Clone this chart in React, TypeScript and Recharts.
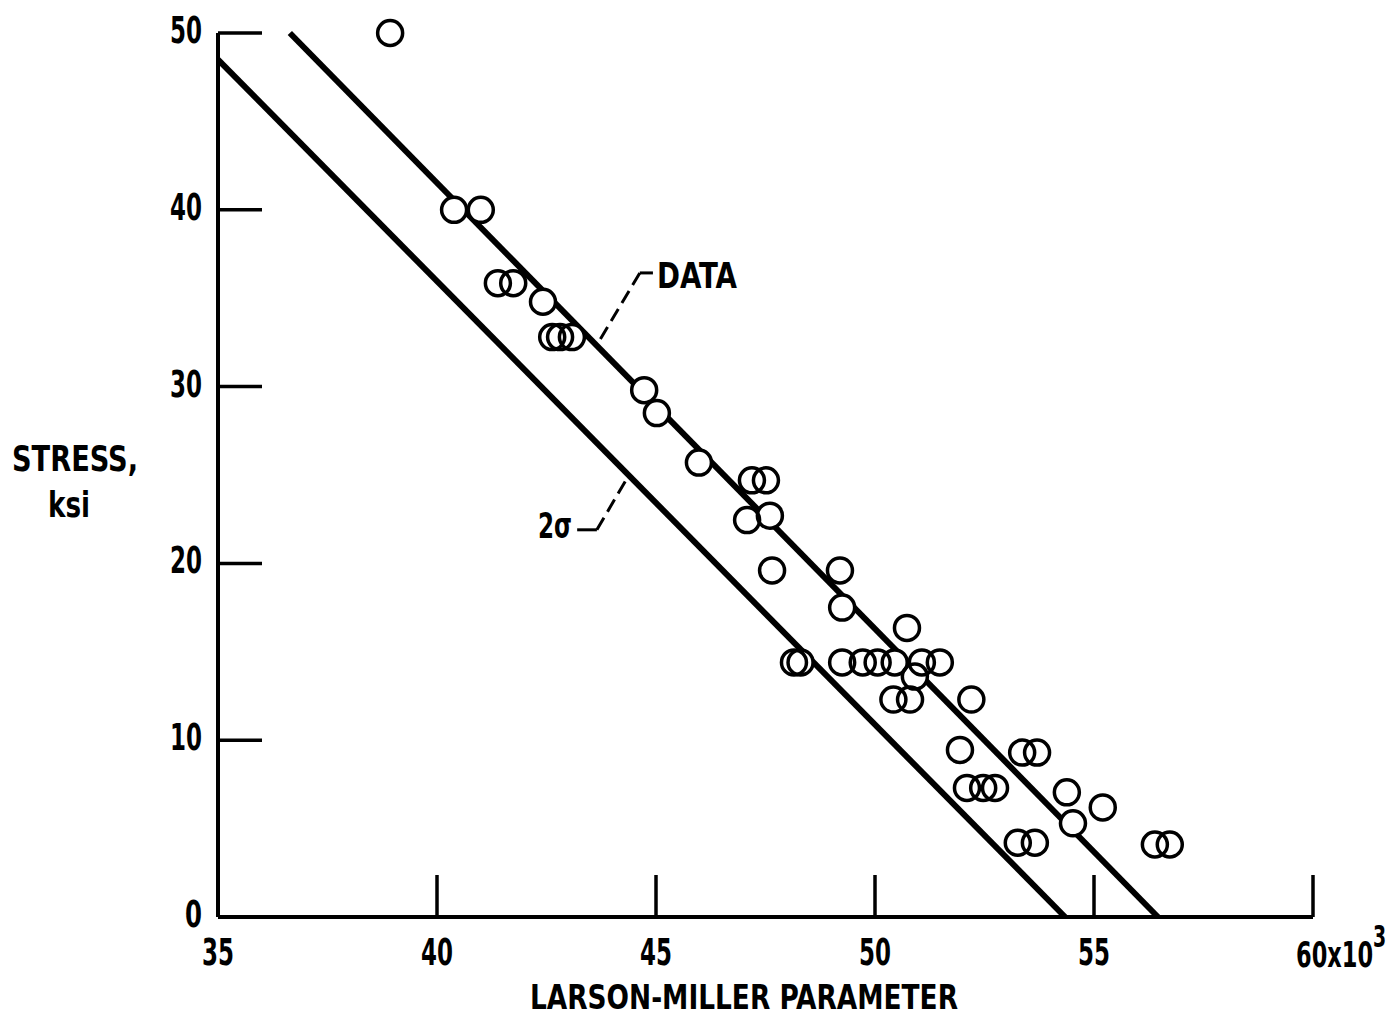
import { ReferenceLine, Scatter, ScatterChart, XAxis, YAxis } from 'recharts';

// Larson-Miller parameter (x10^3) and stress (ksi)
const LMP = [
  38.93, 40.39, 41.0, 41.39, 41.74, 42.42, 42.63, 42.81, 43.08, 44.73, 45.02, 45.98, 47.19, 47.51,
  47.08, 47.6, 47.65, 49.2, 49.25, 50.73, 48.15, 48.3, 49.25, 49.72, 50.06, 50.45, 51.07, 51.48,
  50.91, 50.42, 50.8, 52.2, 51.94, 53.36, 53.7, 52.1, 52.47, 52.74, 54.38, 55.2, 54.52, 53.26,
  53.65, 56.39, 56.73,
];
const STRESS = [
  50.0, 40.0, 40.0, 35.85, 35.85, 34.8, 32.8, 32.8, 32.8, 29.8, 28.5, 25.7, 24.7, 24.7, 22.45, 22.7,
  19.6, 19.6, 17.5, 16.35, 14.4, 14.4, 14.4, 14.4, 14.4, 14.4, 14.4, 14.4, 13.6, 12.3, 12.3, 12.3,
  9.45, 9.3, 9.3, 7.3, 7.3, 7.3, 7.05, 6.2, 5.3, 4.2, 4.2, 4.1, 4.1,
];

const X_TICKS = [35, 40, 45, 50, 55, 60];
const Y_TICKS = [0, 10, 20, 30, 40, 50];

// fitted line through the data and the 2-sigma lower bound
const DATA_LINE = [{ x: 36.64, y: 50 }, { x: 56.46, y: 0 }];
const SIGMA_LINE = [{ x: 35, y: 48.5 }, { x: 54.34, y: 0 }];

// leader lines for the two labels
const DATA_LEADER_FLAT = [{ x: 44.63, y: 36.43 }, { x: 44.93, y: 36.43 }];
const DATA_LEADER_DASH = [{ x: 44.63, y: 36.43 }, { x: 43.65, y: 32.35 }];
const SIGMA_LEADER_FLAT = [{ x: 43.2, y: 21.9 }, { x: 43.65, y: 21.9 }];
const SIGMA_LEADER_DASH = [{ x: 43.65, y: 21.9 }, { x: 44.36, y: 24.9 }];

const points = LMP.map((x, i) => ({ x, y: STRESS[i] }));

const FONT = '"DejaVu Sans Condensed", "Liberation Sans Narrow", "Roboto", sans-serif';
const INK = '#000';

// squeeze the text into the narrow lettering of the original drawing
const fit = (w: number) => ({ textLength: w, lengthAdjust: 'spacingAndGlyphs' as const });

function YTick(props: any) {
  const { x, y, payload } = props;
  const label = String(payload.value);
  return (
    <g>
      {payload.value !== 0 && (
        <line x1={x} x2={x + 44} y1={y} y2={y} stroke={INK} strokeWidth={3.5} />
      )}
      <text
        x={x - 16}
        y={y + 10}
        textAnchor="end"
        fontFamily={FONT}
        fontWeight="bold"
        fontSize={37}
        fill={INK}
        {...(label.length > 1 ? fit(32) : fit(17))}
      >
        {label}
      </text>
    </g>
  );
}

function XTick(props: any) {
  const { x, y, payload } = props;
  const last = payload.value === 60;
  return (
    <g>
      {payload.value !== 35 && (
        <line x1={x} x2={x} y1={y - 42} y2={y} stroke={INK} strokeWidth={3.5} />
      )}
      {last ? (
        <text
          transform={`translate(${x - 17},${y + 50}) scale(1,1.42)`}
          fontFamily={FONT}
          fontWeight="bold"
          fontSize={25}
          fill={INK}
        >
          60x10
          <tspan dy={-14} fontSize={21}>
            3
          </tspan>
        </text>
      ) : (
        <text
          x={x}
          y={y + 48}
          textAnchor="middle"
          fontFamily={FONT}
          fontWeight="bold"
          fontSize={37}
          fill={INK}
          {...fit(32)}
        >
          {payload.value}
        </text>
      )}
    </g>
  );
}

const disc = (props: any) => <circle cx={props.cx} cy={props.cy} r={12.5} fill="#fff" />;
const ring = (props: any) => (
  <circle cx={props.cx} cy={props.cy} r={12.5} fill="none" stroke={INK} strokeWidth={3.5} />
);

export default function App() {
  return (
    <div
      style={{
        position: 'absolute',
        left: 0,
        top: 0,
        width: 1399,
        height: 1027,
        background: '#fff',
      }}
    >
      <ScatterChart width={1399} height={1027} margin={{ top: 33, right: 86, left: 158, bottom: 50 }}>
        <XAxis
          type="number"
          dataKey="x"
          domain={[35, 60]}
          ticks={X_TICKS}
          interval={0}
          height={60}
          tickSize={0}
          tickMargin={0}
          tickLine={false}
          axisLine={{ stroke: INK, strokeWidth: 4 }}
          tick={<XTick />}
        />
        <YAxis
          type="number"
          dataKey="y"
          domain={[0, 50]}
          ticks={Y_TICKS}
          interval={0}
          width={60}
          tickSize={0}
          tickMargin={0}
          tickLine={false}
          axisLine={{ stroke: INK, strokeWidth: 4 }}
          tick={<YTick />}
        />
        <ReferenceLine segment={DATA_LINE} stroke={INK} strokeWidth={6} ifOverflow="visible" />
        <ReferenceLine segment={SIGMA_LINE} stroke={INK} strokeWidth={6} ifOverflow="visible" />
        <ReferenceLine segment={DATA_LEADER_FLAT} stroke={INK} strokeWidth={3} ifOverflow="visible" />
        <ReferenceLine
          segment={DATA_LEADER_DASH}
          stroke={INK}
          strokeWidth={3}
          strokeDasharray="14 7"
          ifOverflow="visible"
        />
        <ReferenceLine segment={SIGMA_LEADER_FLAT} stroke={INK} strokeWidth={3} ifOverflow="visible" />
        <ReferenceLine
          segment={SIGMA_LEADER_DASH}
          stroke={INK}
          strokeWidth={3}
          strokeDasharray="14 7"
          ifOverflow="visible"
        />
        <Scatter data={points} shape={disc} isAnimationActive={false} />
        <Scatter data={points} shape={ring} isAnimationActive={false} />
      </ScatterChart>
      <svg
        width={1399}
        height={1027}
        style={{ position: 'absolute', left: 0, top: 0, pointerEvents: 'none' }}
      >
        <g fontFamily={FONT} fontWeight="bold" fill={INK}>
          <text x={12} y={471} fontSize={35} {...fit(126)}>
            STRESS,
          </text>
          <text x={48} y={517} fontSize={35} {...fit(42)}>
            ksi
          </text>
          <text x={530} y={1009} fontSize={34} {...fit(428)}>
            LARSON-MILLER PARAMETER
          </text>
          <text x={657} y={288} fontSize={35} {...fit(80)}>
            DATA
          </text>
          <text x={538} y={538} fontSize={35} {...fit(34)}>
            2σ
          </text>
        </g>
      </svg>
    </div>
  );
}
